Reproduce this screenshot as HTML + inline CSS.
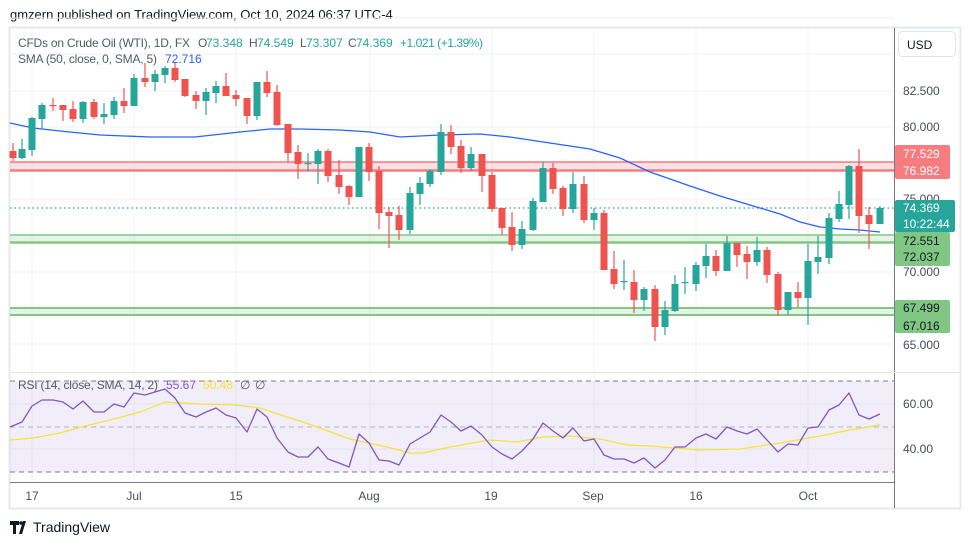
<!DOCTYPE html>
<html><head><meta charset="utf-8"><style>
html,body{margin:0;padding:0;background:#fff;}
body{width:970px;height:545px;overflow:hidden;font-family:"Liberation Sans",sans-serif;}
</style></head><body>
<svg id="s" width="970" height="545" xmlns="http://www.w3.org/2000/svg" font-family="Liberation Sans, sans-serif">
<rect x="0" y="0" width="970" height="545" fill="#fff"/>
<text x="10" y="19" font-size="13" fill="#131722">gmzern published on TradingView.com, Oct 10, 2024 06:37 UTC-4</text>
<rect x="9.5" y="27.5" width="951" height="481" fill="#fff" stroke="#e6e8ee" stroke-width="2"/>
<g id="grid" stroke="#f0f2f7" stroke-width="1"></g>
<rect x="10" y="381" width="884" height="91" fill="#7e57c2" fill-opacity="0.1"/>
<g stroke="#787b86" stroke-dasharray="5,4" stroke-width="1">
<line x1="10" y1="381" x2="894" y2="381"/><line x1="10" y1="472" x2="894" y2="472"/>
</g>
<line x1="10" y1="427" x2="894" y2="427" stroke="#b2b5be" stroke-dasharray="5,4"/>
<rect x="10" y="162" width="884" height="9" fill="#f23645" fill-opacity="0.15"/>
<line x1="10" y1="162" x2="894" y2="162" stroke="#f77c80" stroke-width="1.5"/>
<line x1="10" y1="170.5" x2="894" y2="170.5" stroke="#f77c80" stroke-width="2.5"/>
<rect x="10" y="235" width="884" height="8" fill="#4caf50" fill-opacity="0.15"/>
<line x1="10" y1="235" x2="894" y2="235" stroke="#81c784" stroke-width="1.5"/>
<line x1="10" y1="242.5" x2="894" y2="242.5" stroke="#81c784" stroke-width="2.5"/>
<rect x="10" y="308" width="884" height="7" fill="#4caf50" fill-opacity="0.15"/>
<line x1="10" y1="308" x2="894" y2="308" stroke="#81c784" stroke-width="2"/>
<line x1="10" y1="315" x2="894" y2="315" stroke="#81c784" stroke-width="2"/>
<line x1="10" y1="208" x2="894" y2="208" stroke="#26a69a" stroke-dasharray="1.5,3" stroke-width="1.2"/>
<g id="sma"></g><g id="c"></g><g id="rsi"></g>
<line x1="894.5" y1="28" x2="894.5" y2="508" stroke="#787b86" stroke-width="1"/>
<line x1="10" y1="482.5" x2="894" y2="482.5" stroke="#787b86" stroke-width="1"/>
<line x1="10" y1="372.5" x2="960" y2="372.5" stroke="#e0e3eb" stroke-width="1"/>
<rect x="898.5" y="31.5" width="57" height="25" rx="4" fill="#fff" stroke="#e0e3eb"/>
<text x="907" y="49" font-size="12" fill="#131722">USD</text>
<g font-size="12" fill="#4a4e59">
<text x="903" y="95">82.500</text><text x="903" y="131">80.000</text><text x="903" y="203">75.000</text>
<text x="903" y="276">70.000</text><text x="903" y="349">65.000</text>
<text x="903" y="408">60.00</text><text x="903" y="453">40.00</text>
</g>
<rect x="895" y="145" width="55" height="34" rx="2" fill="#f77c80"/>
<text x="903" y="158" font-size="12" fill="#fff">77.529</text><text x="903" y="175" font-size="12" fill="#fff">76.982</text>
<rect x="895" y="200" width="60" height="32" rx="2" fill="#26a69a"/>
<text x="903" y="212" font-size="12" fill="#fff">74.369</text><text x="903" y="228" font-size="12" fill="#fff">10:22:44</text>
<rect x="895" y="232" width="55" height="34" rx="2" fill="#81c784"/>
<text x="903" y="245" font-size="12" fill="#131722">72.551</text><text x="903" y="261" font-size="12" fill="#131722">72.037</text>
<rect x="895" y="300" width="55" height="33" rx="2" fill="#81c784"/>
<text x="903" y="312" font-size="12" fill="#131722">67.499</text><text x="903" y="330" font-size="12" fill="#131722">67.016</text>
<g font-size="12" fill="#4a4e59" text-anchor="middle">
<text x="32" y="500">17</text><text x="134" y="500">Jul</text><text x="236" y="500">15</text><text x="369" y="500">Aug</text>
<text x="491" y="500">19</text><text x="593" y="500">Sep</text><text x="696" y="500">16</text><text x="808" y="500">Oct</text>
</g>
<g font-size="12">
<text x="18" y="47" fill="#555a66" textLength="172">CFDs on Crude Oil (WTI), 1D, FX</text>
<text x="198" y="47" fill="#555a66">O</text><text x="206" y="47" fill="#26a69a">73.348</text>
<text x="249" y="47" fill="#555a66">H</text><text x="257" y="47" fill="#26a69a">74.549</text>
<text x="300" y="47" fill="#555a66">L</text><text x="306" y="47" fill="#26a69a">73.307</text>
<text x="348" y="47" fill="#555a66">C</text><text x="356" y="47" fill="#26a69a">74.369</text>
<text x="400" y="47" fill="#26a69a" textLength="83">+1.021 (+1.39%)</text>
<text x="18" y="63" fill="#555a66" textLength="139">SMA (50, close, 0, SMA, 5)</text>
<text x="165" y="63" fill="#2962ff">72.716</text>
<text x="18" y="389" fill="#555a66" textLength="140">RSI (14, close, SMA, 14, 2)</text>
<text x="166" y="389" fill="#7e57c2">55.67</text>
<text x="203" y="389" fill="#f5e23b">50.48</text>
<text x="240" y="389" fill="#555a66">∅</text><text x="255" y="389" fill="#555a66">∅</text>
</g>
<g transform="translate(10,521)"><path d="M0 0h9v4h-3v9h-3v-9h-3z M13 0l3 0-4 13h-3z" fill="#131722"/><circle cx="11" cy="2" r="1.8" fill="#131722"/></g>
<text x="33" y="532" font-size="14" fill="#131722">TradingView</text>
</svg>
<script>
var ns="http://www.w3.org/2000/svg",s=document.getElementById('s');
function el(p,t,a){var e=document.createElementNS(ns,t);for(var k in a)e.setAttribute(k,a[k]);p.appendChild(e);return e;}
var g=document.getElementById('grid');
[18,54,91,127,163,199,235,272,308,344,404,449].forEach(function(y){el(g,'line',{x1:10,y1:y,x2:894,y2:y});});
[32,134,236,370,492,594,696,808].forEach(function(x){el(g,'line',{x1:x,y1:28,x2:x,y2:482});});
var C=[[13,151,158,143,161],[22,158,149,139,159],[32,150,118,117,156],[42,119,105,103,129],[53,105,106,98,111],[63,105,110,105,121],[73,109,119,101,122],[83,119,102,101,123],[94,102,117,99,119],[104,117,114,103,124],[114,115,101,97,119],[124,101,106,88,113],[134,106,78,74,106],[145,78,82,63,87],[155,82,74,70,91],[165,75,68,66,83],[175,68,80,62,82],[185,79,96,79,97],[196,95,101,91,109],[206,101,92,88,115],[216,93,86,81,103],[226,86,96,73,96],[236,95,99,90,106],[247,98,116,98,124],[257,116,82,82,120],[267,82,93,71,97],[277,92,125,85,126],[288,124,153,124,162],[298,152,164,145,179],[308,164,163,153,171],[318,164,151,149,184],[328,151,176,149,182],[339,175,187,160,194],[349,186,197,185,205],[359,197,147,147,197],[369,147,172,143,181],[379,171,213,166,229],[389,212,216,207,248],[399,215,230,206,240],[410,230,193,187,234],[420,194,183,177,205],[430,184,171,169,187],[441,172,132,124,175],[451,132,147,125,154],[461,146,168,140,173],[471,168,154,147,171],[482,154,176,154,192],[492,175,209,172,212],[502,208,228,208,235],[512,227,245,212,251],[522,245,229,221,249],[533,230,201,198,231],[543,202,168,162,202],[553,168,189,163,194],[563,188,209,186,216],[573,209,184,172,213],[584,184,220,176,223],[594,220,213,208,230],[604,213,270,210,270],[614,269,284,251,289],[624,282,281,260,290],[634,282,300,270,313],[644,300,289,287,311],[655,289,327,285,341],[665,327,310,301,335],[675,311,284,275,312],[685,283,282,267,294],[696,284,265,262,291],[706,266,256,244,278],[716,256,271,250,276],[727,271,243,236,271],[737,243,255,243,267],[747,254,262,246,279],[757,262,250,237,266],[767,250,275,247,283],[778,274,310,272,316],[788,310,292,292,315],[798,292,298,282,307],[808,298,261,244,325],[818,262,257,236,274],[829,258,218,213,264],[839,219,204,191,222],[849,205,166,165,219],[859,166,216,149,233],[869,215,224,207,249],[880,224,208,206,224]];
var cg=document.getElementById('c');
C.forEach(function(d){var up=d[2]<=d[1],col=up?'#26a69a':'#ef5350';var t=Math.min(d[1],d[2]),b=Math.max(d[1],d[2]);
el(cg,'line',{x1:d[0],y1:d[3],x2:d[0],y2:d[4],stroke:col,'stroke-width':1.2});
el(cg,'rect',{x:d[0]-3.5,y:t,width:7,height:Math.max(1.2,b-t),fill:col});});
function pl(p,pts,col,w){el(p,'polyline',{points:pts.map(function(q){return q.join(',')}).join(' '),fill:'none',stroke:col,'stroke-width':w,'stroke-linejoin':'round'});}
pl(document.getElementById('sma'),[[10,123],[33,128],[60,131],[100,135],[150,137],[195,137],[240,132],[270,129],[300,129],[340,130],[370,132],[400,137],[440,135],[480,134],[510,137],[550,143],[590,149],[620,158],[650,172],[690,186],[720,196],[750,205],[780,214],[800,222],[820,227],[840,229],[860,230],[880,232]],'#2962ff',1.3);
var r=document.getElementById('rsi');
pl(r,[[10,440],[33,438],[60,433],[85,426],[110,420],[140,412],[165,402],[200,404],[235,405],[260,408],[290,418],[300,421],[320,428],[350,439],[387,447],[410,453],[423,453],[450,447],[467,444],[490,440],[517,442],[543,437],[570,436],[600,439],[627,445],[650,446],[700,450],[740,449],[780,443],[820,436],[850,430],[880,425]],'#f5e23b',1.2);
pl(r,[[10,427],[22,422],[32,406],[42,400],[53,400],[63,402],[73,409],[83,401],[94,412],[104,412],[114,404],[124,407],[134,393],[145,395],[155,392],[165,389],[175,398],[185,413],[196,417],[206,412],[216,408],[226,415],[236,418],[247,432],[257,409],[267,417],[277,438],[288,452],[298,457],[308,457],[318,447],[328,459],[339,463],[349,467],[359,434],[369,443],[379,460],[389,461],[399,465],[410,444],[420,438],[430,432],[441,415],[451,422],[461,431],[471,426],[482,435],[492,447],[502,454],[512,459],[522,451],[533,439],[543,423],[553,431],[563,438],[573,428],[584,441],[594,439],[604,455],[614,459],[624,459],[634,463],[644,458],[655,468],[665,460],[675,447],[685,447],[696,438],[706,434],[716,439],[727,427],[737,431],[747,434],[757,429],[767,440],[778,452],[788,444],[798,445],[808,428],[818,427],[829,410],[839,405],[849,393],[859,415],[869,419],[880,414]],'#7e57c2',1.3);
</script>
</body></html>
